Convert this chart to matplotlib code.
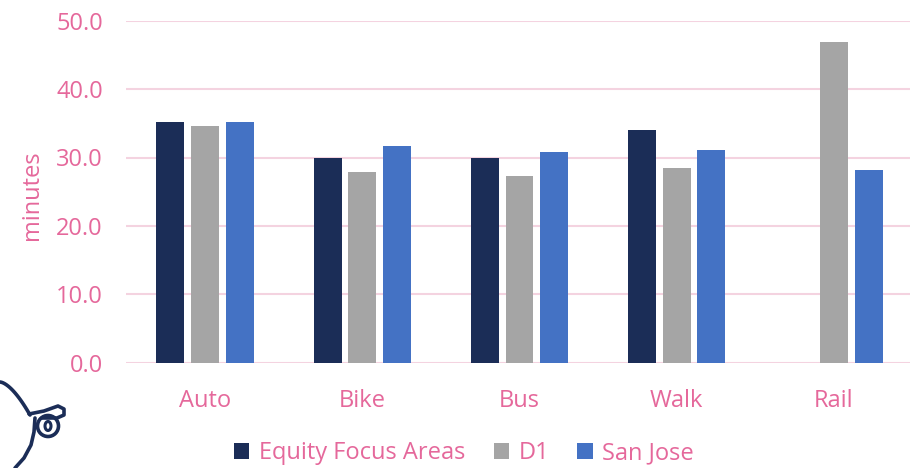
import matplotlib
matplotlib.use("Agg")
import matplotlib.pyplot as plt
import numpy as np
from matplotlib.lines import Line2D
from matplotlib.patches import Ellipse

# ── Data ──────────────────────────────────────────────────────────────────────
categories = ["Auto", "Bike", "Bus", "Walk", "Rail"]
series_names = ["Equity Focus Areas", "D1", "San Jose"]
efa_minutes = [35.2, 29.9, 29.9, 34.0, np.nan]
d1_minutes = [34.6, 27.9, 27.3, 28.5, 46.9]
sj_minutes = [35.2, 31.7, 30.8, 31.1, 28.2]
y_ticks = [0, 10, 20, 30, 40, 50]

# ── Style ─────────────────────────────────────────────────────────────────────
W, H = 910, 468
PINK = "#E5689B"
GRID = "#F4D3E0"
NAVY = "#1B2D57"
COLORS = [NAVY, "#A5A5A5", "#4472C4"]
FONT = "Open Sans"
FS = 17

plt.rcParams["font.family"] = [FONT, "DejaVu Sans"]


def px(x, y):
    """pixel coords (top-left origin) -> figure fraction"""
    return x / W, 1 - y / H


fig = plt.figure(figsize=(W / 100, H / 100), dpi=100, facecolor="white")
left, right = 126.4, 912.6
top, bottom = 20.7, 362.7
ax = fig.add_axes([left / W, 1 - bottom / H, (right - left) / W, (bottom - top) / H])

x = np.arange(len(categories))
offsets = [-0.22, 0.0, 0.22]
bar_w = 0.178
for vals, off, col, name in zip([efa_minutes, d1_minutes, sj_minutes],
                                offsets, COLORS, series_names):
    ax.bar(x + off, vals, width=bar_w, color=col, label=name, zorder=3)

ax.set_xlim(-0.5, len(categories) - 0.5)
ax.set_ylim(0, 50)
ax.set_yticks(y_ticks)
ax.set_yticklabels([f"{v:.1f}" for v in y_ticks])
ax.set_xticks(x)
ax.set_xticklabels(categories)
ax.tick_params(axis="y", length=0, pad=17, labelsize=FS, labelcolor=PINK)
ax.tick_params(axis="x", length=0, pad=19, labelsize=FS, labelcolor=PINK)
ax.grid(axis="y", color=GRID, linewidth=1.5, zorder=0)
for s in ax.spines.values():
    s.set_visible(False)

ax.set_ylabel("minutes", fontsize=FS, color=PINK)
ax.yaxis.set_label_coords(-0.105, 0.49)

fig.legend(loc="center", bbox_to_anchor=(px(464, 0)[0], px(0, 453)[1]),
           ncol=3, frameon=False, fontsize=FS, labelcolor=PINK,
           handlelength=0.65, handleheight=0.65, handletextpad=0.4,
           columnspacing=1.2, borderaxespad=0, borderpad=0)

# ── Logo (owl outline, bottom-left) ───────────────────────────────────────────
def line(pts, lw=2.6):
    xs, ys = zip(*[px(a, b) for a, b in pts])
    fig.add_artist(Line2D(xs, ys, color=NAVY, lw=lw, solid_capstyle="round",
                          transform=fig.transFigure))

# head arc
t = np.linspace(0, 1, 20)
line([(0 + 30 * s, 382 + 33 * s ** 1.6) for s in t])
# stem down-left
line([(35, 418), (34, 432), (31, 445), (24, 458), (15, 468)])
# brow / beak
line([(29, 414), (44, 411), (58, 406), (64, 409), (64, 415), (57, 418), (42, 418)])
# eye rings
cx, cy = px(48, 426)
fig.add_artist(Ellipse((cx, cy), 21 / W, 21 / H, fill=False, ec=NAVY, lw=2.6,
                       transform=fig.transFigure))
fig.add_artist(Ellipse((cx, cy), 6 / W, 9 / H, fill=False, ec=NAVY, lw=2.2,
                       transform=fig.transFigure))

fig.savefig("out.png", dpi=100, facecolor="white")
